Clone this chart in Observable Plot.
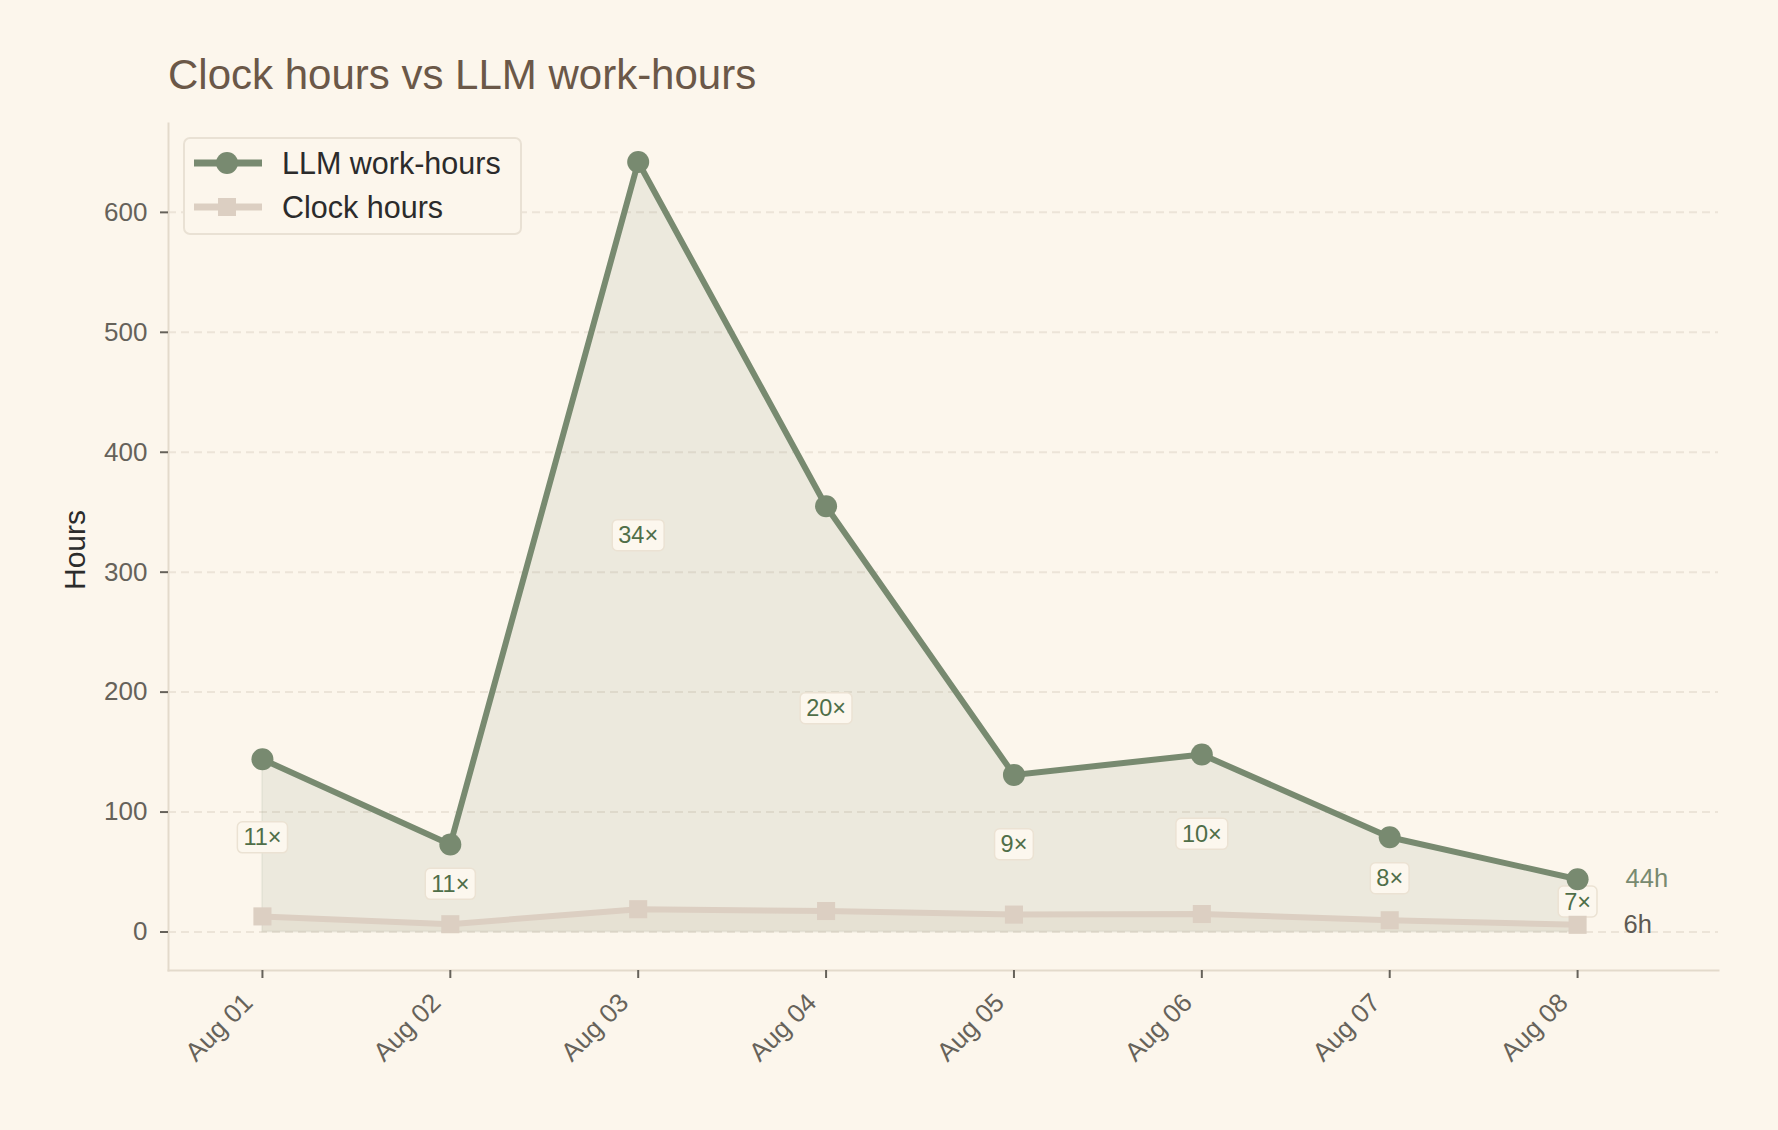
<!DOCTYPE html>
<html>
<head>
<meta charset="utf-8">
<script src="https://cdn.jsdelivr.net/npm/d3@7"></script>
<script src="https://cdn.jsdelivr.net/npm/@observablehq/plot@0.6"></script>
<style>
  html, body { margin: 0; padding: 0; background: #fcf6ec; }
  #wrap { position: relative; width: 1778px; height: 1130px; font-family: "Liberation Sans", Arial, Helvetica, sans-serif; overflow: hidden; }
  #wrap svg.chart { position: absolute; left: 0; top: 0; }
  #title { position: absolute; left: 168px; top: 54px; font-size: 42px; line-height: 42px; color: #6b5848; white-space: nowrap; }
  #ylabel { position: absolute; left: -25px; top: 535px; width: 200px; text-align: center; font-size: 30px; line-height: 30px; color: #2b2b2b; transform: rotate(-90deg); transform-origin: 50% 50%; }
  #legend { position: absolute; left: 183px; top: 137px; width: 339px; height: 98px; box-sizing: border-box; border: 2px solid #e9e1d4; border-radius: 7px; background: #fcf6ec; }
  #legend .sw { position: absolute; left: 8px; }
  #legend .lab { position: absolute; left: 97px; font-size: 30.5px; line-height: 30px; color: #2b2b2b; white-space: nowrap; }
</style>
</head>
<body>
<div id="wrap">
  <div id="title">Clock hours vs LLM work-hours</div>
  <div id="ylabel">Hours</div>
</div>
<script>
// ---- data ----
const days = ["Aug 01", "Aug 02", "Aug 03", "Aug 04", "Aug 05", "Aug 06", "Aug 07", "Aug 08"];
const llmHours = [144, 73, 642, 355, 131, 148, 79, 44];
const clockHours = [13, 6.5, 19, 17.5, 14.5, 15, 9.8, 6];
const ratioLabels = ["11×", "11×", "34×", "20×", "9×", "10×", "8×", "7×"];
const yTicks = [0, 100, 200, 300, 400, 500, 600];
const seriesNames = ["LLM work-hours", "Clock hours"];

// ---- style ----
const sage = "#788a70";
const tan = "#dccfc2";

const rows = days.map((d, i) => ({
  i, day: d, llm: llmHours[i], clock: clockHours[i], ratio: ratioLabels[i],
  mid: (llmHours[i] + clockHours[i]) / 2
}));
const last = rows.length - 1;
const endLlm = [{i: last, v: llmHours[last], text: `${llmHours[last]}h`}];
const endClock = [{i: last, v: clockHours[last], text: `${clockHours[last]}h`}];
const xTicks = days.map((d, i) => i);
const yMax = d3.max(llmHours), yPad = yMax * 0.05;

const chart = Plot.plot({
  width: 1778,
  height: 1130,
  marginLeft: 168,
  marginRight: 60,
  marginTop: 123,
  marginBottom: 160,
  style: {background: "transparent", fontFamily: "'Liberation Sans', Arial, Helvetica, sans-serif", fontSize: "25px", color: "#66625a"},
  x: {type: "linear", domain: [-0.5, last + 0.75]},
  y: {domain: [-yPad, yMax + yPad]},
  marks: [
    Plot.gridY(yTicks, {stroke: "#ece4d8", strokeOpacity: 1, strokeWidth: 2, strokeDasharray: "8,5"}),
    Plot.areaY(rows, {x: "i", y1: 0, y2: "llm", fill: sage, fillOpacity: 0.12, stroke: sage, strokeOpacity: 0.08, strokeWidth: 2}),
    Plot.areaY(rows, {x: "i", y1: 0, y2: "clock", fill: "#d2c3b2", fillOpacity: 0.22}),
    Plot.frame({anchor: "left", stroke: "#e3dacb", strokeWidth: 2}),
    Plot.frame({anchor: "bottom", stroke: "#e3dacb", strokeWidth: 2}),
    Plot.axisY(yTicks, {tickSize: 8, tickPadding: 13, fontSize: 26, label: null, stroke: "#66625a", strokeWidth: 2}),
    Plot.axisX(xTicks, {tickSize: 8, tickFormat: () => "", label: null, stroke: "#66625a", strokeWidth: 2}),
    Plot.axisX(xTicks, {tickSize: 0, tickPadding: 28, dx: -14, tickFormat: i => days[i], tickRotate: -45, fontSize: 26, label: null}),
    Plot.text(rows, {x: "i", y: "mid", text: "ratio", fill: "#4f6e48", fontSize: 23.5, className: "ratio-label"}),
    Plot.line(rows, {x: "i", y: "clock", stroke: tan, strokeWidth: 6}),
    Plot.dot(rows, {x: "i", y: "clock", symbol: "square", r: 10.2, fill: tan, stroke: "none"}),
    Plot.line(rows, {x: "i", y: "llm", stroke: sage, strokeWidth: 6}),
    Plot.dot(rows, {x: "i", y: "llm", r: 11, fill: sage, stroke: "none"}),
    Plot.text(endLlm, {x: "i", y: "v", text: "text", fill: sage, fontSize: 25.5, textAnchor: "start", dx: 48}),
    Plot.text(endClock, {x: "i", y: "v", text: "text", fill: "#5e5a52", fontSize: 25.5, textAnchor: "start", dx: 46})
  ]
});
chart.classList.add("chart");
const wrap = document.getElementById("wrap");
wrap.insertBefore(chart, wrap.firstChild);

// boxes behind ratio labels
const svgNS = "http://www.w3.org/2000/svg";
let texts = chart.querySelectorAll("g.ratio-label text");
texts.forEach(t => {
  const b = t.getBBox();
  const r = document.createElementNS(svgNS, "rect");
  r.setAttribute("x", b.x - 6);
  r.setAttribute("y", b.y - 2.5);
  r.setAttribute("width", b.width + 12);
  r.setAttribute("height", b.height + 5);
  r.setAttribute("rx", 5);
  r.setAttribute("fill", "#fcf7ee");
  r.setAttribute("stroke", "#ebe2d3");
  r.setAttribute("stroke-width", 1.5);
  if (t.getAttribute("transform")) r.setAttribute("transform", t.getAttribute("transform"));
  t.parentNode.insertBefore(r, t);
});

// legend
const legend = document.createElement("div");
legend.id = "legend";
const legendStyles = [
  {color: sage, marker: "circle"},
  {color: tan, marker: "square"}
];
seriesNames.forEach((name, k) => {
  const cy = 24 + k * 44;
  const sw = document.createElementNS(svgNS, "svg");
  sw.setAttribute("class", "sw");
  sw.setAttribute("width", 70);
  sw.setAttribute("height", 24);
  sw.style.top = (cy - 12) + "px";
  const ln = document.createElementNS(svgNS, "line");
  ln.setAttribute("x1", 1); ln.setAttribute("x2", 69); ln.setAttribute("y1", 12); ln.setAttribute("y2", 12);
  ln.setAttribute("stroke", legendStyles[k].color); ln.setAttribute("stroke-width", 7);
  sw.appendChild(ln);
  let m;
  if (legendStyles[k].marker === "circle") {
    m = document.createElementNS(svgNS, "circle");
    m.setAttribute("cx", 34); m.setAttribute("cy", 12); m.setAttribute("r", 11);
  } else {
    m = document.createElementNS(svgNS, "rect");
    m.setAttribute("x", 25); m.setAttribute("y", 3); m.setAttribute("width", 18); m.setAttribute("height", 18);
  }
  m.setAttribute("fill", legendStyles[k].color);
  sw.appendChild(m);
  legend.appendChild(sw);
  const lab = document.createElement("span");
  lab.className = "lab";
  lab.style.top = (cy - 15) + "px";
  lab.textContent = name;
  legend.appendChild(lab);
});
wrap.appendChild(legend);
</script>
</body>
</html>
